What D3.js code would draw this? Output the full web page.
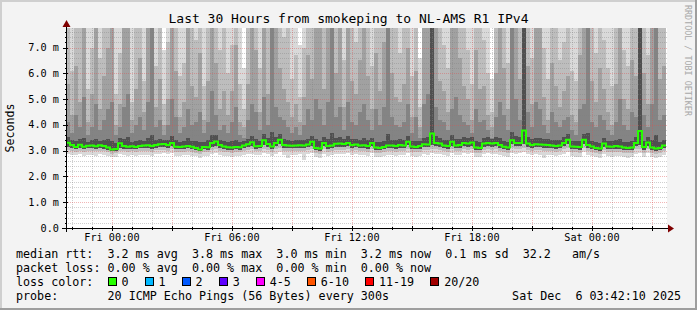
<!DOCTYPE html>
<html><head><meta charset="utf-8">
<script src="https://cdn.jsdelivr.net/npm/d3@7"></script>
<style>
html,body{margin:0;padding:0;background:#f3f3f3;}
svg{display:block;}
text{font-family:"DejaVu Sans Mono",monospace;white-space:pre;}
</style></head><body>
<svg id="c" width="697" height="310"></svg>
<script>
// ---------------- data ----------------
const title = "Last 30 Hours from smokeping to NL-AMS R1 IPv4";
const startTime = new Date(2025, 11, 4, 21, 42, 10);
const endTime = new Date(2025, 11, 6, 3, 42, 10);
const stepMinutes = 12;

// median RTT per step (ms)
const median = [
3.31,3.22,3.14,3.23,3.15,3.19,3.20,3.17,3.21,3.18,
3.12,3.05,3.07,3.29,3.18,3.15,3.17,3.14,3.18,3.20,
3.21,3.18,3.22,3.25,3.26,3.22,3.30,3.15,3.14,3.16,
3.18,3.15,3.10,3.05,3.14,3.13,3.30,3.36,3.22,3.16,
3.13,3.12,3.14,3.13,3.20,3.25,3.33,3.17,3.18,3.40,
3.26,3.16,3.30,3.42,3.22,3.20,3.19,3.20,3.21,3.20,
3.24,3.35,3.10,3.08,3.30,3.18,3.20,3.27,3.28,3.26,
3.30,3.22,3.24,3.20,3.21,3.18,3.30,3.12,3.10,3.14,
3.20,3.20,3.18,3.22,3.20,3.35,3.16,3.14,3.18,3.25,
3.24,3.67,3.30,3.28,3.20,3.18,3.35,3.20,3.22,3.30,
3.28,3.32,3.12,3.10,3.28,3.30,3.28,3.30,3.22,3.15,
3.12,3.40,3.30,3.30,3.78,3.28,3.22,3.25,3.24,3.23,
3.22,3.20,3.18,3.20,3.30,3.42,3.16,3.15,3.14,3.42,
3.22,3.16,3.10,3.08,3.28,3.16,3.15,3.18,3.16,3.12,
3.10,3.12,3.30,3.76,3.14,3.32,3.12,3.08,3.10,3.20];

// sorted ping ranks per step (ms)
const ping1 = [
2.88,2.84,2.82,2.86,2.80,2.85,2.83,2.81,2.86,2.82,
2.79,2.74,2.77,2.86,2.83,2.80,2.84,2.79,2.84,2.85,
2.85,2.80,2.88,2.87,2.90,2.86,2.90,2.79,2.80,2.82,
2.84,2.80,2.78,2.72,2.80,2.78,2.88,2.92,2.85,2.81,
2.79,2.76,2.80,2.79,2.85,2.87,2.89,2.82,2.84,2.90,
2.88,2.78,2.86,2.94,2.85,2.70,2.82,2.84,2.86,2.65,
2.86,2.90,2.74,2.72,2.89,2.80,2.82,2.88,2.89,2.87,
2.90,2.85,2.86,2.82,2.84,2.80,2.90,2.77,2.75,2.79,
2.82,2.84,2.80,2.85,2.83,2.92,2.80,2.76,2.81,2.86,
2.85,2.90,2.88,2.89,2.83,2.80,2.91,2.82,2.85,2.90,
2.88,2.90,2.77,2.74,2.89,2.90,2.87,2.89,2.84,2.78,
2.76,2.92,2.88,2.90,2.93,2.88,2.85,2.86,2.84,2.70,
2.85,2.82,2.80,2.83,2.89,2.95,2.78,2.77,2.76,2.94,
2.84,2.78,2.74,2.72,2.88,2.79,2.77,2.80,2.78,2.75,
2.73,2.75,2.89,2.91,2.76,2.90,2.75,2.72,2.74,2.82];
const ping3 = [
3.02,2.98,2.95,3.00,2.96,2.99,2.98,2.97,3.00,2.97,
2.93,2.88,2.90,3.00,2.97,2.95,2.97,2.94,2.98,2.99,
3.00,2.96,3.01,3.02,3.04,3.00,3.05,2.95,2.94,2.96,
2.98,2.95,2.92,2.87,2.94,2.93,3.04,3.07,3.00,2.96,
2.93,2.92,2.94,2.93,2.99,3.02,3.05,2.97,2.98,3.08,
3.03,2.96,3.05,3.10,3.00,2.98,2.97,2.99,3.00,2.98,
3.01,3.07,2.90,2.88,3.05,2.96,2.98,3.03,3.04,3.02,
3.05,3.00,3.01,2.98,2.99,2.96,3.05,2.92,2.90,2.94,
2.98,2.99,2.96,3.00,2.98,3.08,2.95,2.93,2.96,3.02,
3.01,3.08,3.05,3.04,2.98,2.96,3.07,2.98,3.00,3.05,
3.03,3.06,2.92,2.90,3.04,3.05,3.03,3.05,3.00,2.94,
2.92,3.10,3.05,3.05,3.10,3.04,3.00,3.02,3.01,3.00,
3.00,2.98,2.96,2.98,3.05,3.12,2.94,2.93,2.92,3.12,
3.00,2.94,2.90,2.88,3.03,2.94,2.93,2.96,2.94,2.91,
2.90,2.91,3.05,3.08,2.92,3.06,2.91,2.88,2.90,2.98];
const ping5 = [
3.14,3.10,3.05,3.11,3.06,3.09,3.10,3.08,3.11,3.08,
3.03,2.97,2.99,3.12,3.08,3.06,3.08,3.05,3.09,3.10,
3.11,3.08,3.12,3.14,3.15,3.12,3.17,3.06,3.05,3.07,
3.09,3.06,3.02,2.97,3.05,3.04,3.16,3.20,3.12,3.07,
3.04,3.03,3.05,3.04,3.10,3.14,3.18,3.08,3.09,3.22,
3.15,3.07,3.17,3.24,3.12,3.10,3.09,3.10,3.11,3.10,
3.13,3.20,3.01,2.99,3.17,3.08,3.10,3.15,3.16,3.14,
3.17,3.12,3.13,3.10,3.11,3.08,3.17,3.03,3.01,3.05,
3.10,3.10,3.08,3.12,3.10,3.21,3.07,3.05,3.08,3.14,
3.13,3.22,3.18,3.16,3.10,3.08,3.20,3.10,3.12,3.18,
3.16,3.19,3.03,3.01,3.16,3.18,3.16,3.18,3.12,3.06,
3.03,3.25,3.18,3.18,3.24,3.16,3.12,3.14,3.13,3.12,
3.12,3.10,3.08,3.10,3.18,3.26,3.06,3.05,3.04,3.26,
3.12,3.06,3.01,2.99,3.16,3.06,3.05,3.08,3.06,3.03,
3.01,3.03,3.18,3.22,3.04,3.19,3.03,2.99,3.01,3.10];
const ping12 = [
3.52,3.40,3.36,3.44,3.48,3.35,3.41,3.46,3.38,3.42,
3.45,3.38,3.29,3.50,3.47,3.53,3.34,3.37,3.43,3.39,
3.51,3.62,3.40,3.46,3.41,3.43,3.58,3.40,3.35,3.38,
3.49,3.39,3.36,3.34,3.35,3.40,3.61,3.59,3.42,3.39,
3.34,3.37,3.41,3.33,3.36,3.47,3.58,3.44,3.39,3.66,
3.49,3.72,3.55,3.64,3.45,3.41,3.39,3.42,3.40,3.41,
3.47,3.57,3.44,3.36,3.53,3.46,3.68,3.50,3.52,3.45,
3.56,3.44,3.46,3.43,3.48,3.41,3.50,3.35,3.32,3.39,
3.66,3.43,3.40,3.44,3.42,3.57,3.38,3.37,3.39,3.50,
3.52,11.3,3.56,3.51,3.42,3.40,3.59,3.46,3.45,3.52,
3.50,3.53,3.36,3.33,3.50,3.52,3.47,3.54,3.48,3.39,
3.35,3.74,3.56,3.52,10.6,3.52,3.45,3.50,3.48,3.45,
3.44,3.43,3.40,3.42,3.53,3.64,3.38,3.37,3.38,3.65,
3.70,3.39,3.33,3.31,3.50,3.38,3.37,3.41,3.44,3.35,
3.33,3.36,3.53,12.2,3.37,3.55,3.40,3.62,3.33,3.43];
const ping14 = [
4.1,3.7,4.4,3.9,5.1,3.6,3.9,4.8,3.8,4.2,
4.6,4.9,3.6,3.9,4.7,5.2,3.7,4.0,4.3,3.8,
4.9,9.6,3.9,4.2,3.6,4.0,5.0,4.3,3.7,3.9,
4.6,4.0,4.1,4.5,3.7,4.1,5.3,4.4,3.8,4.0,
3.7,4.1,4.7,3.6,3.5,4.2,4.8,4.5,3.8,5.1,
4.0,9.1,4.7,4.3,4.2,3.9,3.7,3.9,3.6,4.0,
4.6,4.2,5.0,4.6,4.0,4.9,9.8,4.3,4.7,3.8,
4.9,4.1,4.0,4.5,4.8,4.2,3.8,4.6,4.0,4.7,
9.4,4.3,4.0,3.9,4.1,4.8,3.7,4.3,3.5,4.8,
5.2,12.4,4.7,4.2,4.1,3.8,4.6,5.1,4.4,4.1,
4.0,3.7,4.6,4.1,4.2,3.8,3.5,4.3,4.9,4.4,
3.8,9.9,5.0,4.2,11.8,4.5,3.9,4.9,4.6,4.0,
3.7,4.5,4.1,3.9,4.2,4.3,3.8,3.6,4.6,4.8,
9.2,4.1,3.9,4.4,4.2,3.8,3.6,4.1,5.0,4.0,
3.8,4.5,4.3,13.5,4.4,3.9,4.8,10.1,4.2,4.4];
const ping16 = [
5.6,4.4,6.3,4.9,11.5,4.1,5.2,10.9,4.6,5.9,
7.0,9.8,4.0,4.8,10.3,9.2,4.2,5.4,6.6,4.5,
9.7,13.4,4.7,5.8,4.0,5.0,10.1,6.1,4.3,4.9,
9.4,5.5,5.1,6.8,4.2,5.7,11.2,6.4,4.6,5.3,
4.4,5.3,7.1,4.1,3.9,5.6,9.5,6.9,4.5,10.6,
5.2,12.8,9.3,6.2,5.4,4.9,4.3,4.8,4.1,5.1,
6.7,5.8,10.2,8.9,5.4,9.6,13.1,6.0,9.1,4.7,
9.9,5.7,5.2,6.5,9.4,5.9,4.6,6.8,5.3,7.2,
12.4,6.0,5.1,4.9,5.6,7.0,4.3,6.1,3.9,9.3,
10.0,16.2,9.2,5.7,5.3,4.5,8.8,10.4,6.6,5.5,
5.0,4.2,6.9,5.4,5.5,4.4,3.9,6.0,9.6,6.2,
4.6,13.0,9.8,5.8,15.4,6.3,4.8,9.9,9.0,5.1,
4.2,6.4,5.5,4.7,5.3,5.9,4.4,4.1,6.7,9.5,
12.6,5.7,4.9,6.2,5.4,4.5,4.0,5.6,10.1,5.0,
4.6,6.5,5.9,17.1,6.0,4.8,9.7,13.2,5.8,6.3];
const ping18 = [
11.2,6.1,12.8,9.6,14.7,5.4,7.0,15.9,6.6,10.4,
9.8,13.5,5.2,6.8,14.1,12.0,4.9,9.3,10.1,5.7,
12.9,17.8,6.3,9.5,4.8,7.2,13.4,10.6,5.9,6.4,
12.2,9.4,7.3,10.0,5.5,9.9,14.6,10.3,6.9,9.2,
6.0,7.1,10.8,5.6,4.6,9.7,12.7,10.5,6.2,13.8,
9.4,16.9,12.5,10.2,7.4,9.1,5.8,6.7,5.1,7.0,
10.4,9.8,13.6,11.9,9.5,12.8,17.2,10.1,12.3,6.5,
13.0,9.6,7.2,10.3,12.9,9.9,6.3,10.6,9.4,10.9,
16.3,10.0,9.3,6.8,9.9,11.1,5.9,10.2,4.7,12.6,
13.3,21.5,12.4,9.8,7.1,6.2,12.1,13.7,10.5,9.6,
6.9,5.6,10.7,9.5,7.3,6.0,4.5,9.9,12.8,10.1,
6.4,17.0,12.9,9.7,20.3,10.2,6.6,13.1,12.2,7.0,
5.8,10.3,9.4,6.5,7.2,9.8,6.1,5.7,10.5,12.6,
16.5,9.9,6.8,10.1,7.3,6.2,5.5,9.6,13.2,6.9,
6.3,10.4,9.7,22.6,10.0,6.7,12.7,17.3,9.8,10.2];
const ping20 = [
14.2,11.8,16.5,12.1,19.4,10.6,9.8,21.3,10.2,13.7,
12.9,17.6,9.4,10.8,18.2,15.1,9.1,12.4,13.3,8.9,
16.8,24.5,10.1,12.6,6.9,9.6,17.2,13.8,10.4,9.3,
15.9,12.2,9.7,13.1,10.9,12.8,18.7,13.5,9.9,12.3,
10.5,9.2,14.1,10.3,6.2,12.7,16.3,13.9,10.0,17.4,
12.5,22.8,16.1,13.2,9.5,12.0,10.7,9.0,7.1,10.6,
13.6,12.9,17.9,15.4,12.2,16.6,23.1,13.0,15.8,9.9,
17.0,12.4,10.2,13.4,16.9,12.8,9.6,13.7,12.5,14.0,
21.6,13.1,12.7,10.1,12.9,14.3,9.4,13.2,6.6,16.2,
17.5,28.4,16.0,12.6,10.3,9.7,15.6,17.3,13.8,12.1,
10.8,9.5,13.9,12.4,10.0,9.8,5.8,12.9,16.4,13.3,
10.2,22.1,16.7,12.5,27.6,13.0,9.9,17.1,15.5,10.4,
9.6,13.4,12.2,10.7,9.3,12.8,10.1,9.5,13.6,16.0,
21.9,12.3,10.5,13.1,9.8,10.2,9.4,12.7,16.8,10.6,
9.7,13.5,12.4,29.2,13.2,10.3,16.5,22.4,13.0,12.6];

const yMaxMs = 7.76;
const yTickValues = [0, 1, 2, 3, 4, 5, 6, 7];
const yTickLabels = ["0.0", "1.0 m", "2.0 m", "3.0 m", "4.0 m", "5.0 m", "6.0 m", "7.0 m"];
const xLabelTimes = [new Date(2025,11,5,0,0), new Date(2025,11,5,6,0), new Date(2025,11,5,12,0), new Date(2025,11,5,18,0), new Date(2025,11,6,0,0)];
const xLabels = ["Fri 00:00", "Fri 06:00", "Fri 12:00", "Fri 18:00", "Sat 00:00"];
const yAxisTitle = "Seconds";
const watermark = "RRDTOOL / TOBI OETIKER";
const legendMedian = "median rtt:  3.2 ms avg  3.8 ms max  3.0 ms min  3.2 ms now  0.1 ms sd  32.2   am/s";
const legendLoss = "packet loss: 0.00 % avg  0.00 % max  0.00 % min  0.00 % now";
const legendColorTitle = "loss color:";
const lossLabels = ["0", "1", "2", "3", "4-5", "6-10", "11-19", "20/20"];
const lossColors = ["#26ff00", "#00b8ff", "#0059ff", "#5e00ff", "#ff00fe", "#ff5500", "#ff0000", "#a10000"];
const probeTitle = "probe:";
const probeText = "20 ICMP Echo Pings (56 Bytes) every 300s";
const dateText = "Sat Dec  6 03:42:10 2025";
const smokeColors = ["#d9d9d9", "#bdbdbd", "#a1a1a1", "#848484", "#505050"];

// ---------------- drawing ----------------
const W = 697, H = 310;
const L = 66, R = 666, T = 28, B = 228;
const svg = d3.select("#c");

svg.append("rect").attr("width", W).attr("height", H).attr("fill", "#f3f3f3");
// 3D frame
svg.append("rect").attr("x",0).attr("y",0).attr("width",W).attr("height",2).attr("fill","#cfcfcf");
svg.append("rect").attr("x",0).attr("y",0).attr("width",2).attr("height",H).attr("fill","#cfcfcf");
svg.append("rect").attr("x",0).attr("y",H-2).attr("width",W).attr("height",2).attr("fill","#9e9e9e");
svg.append("rect").attr("x",W-2).attr("y",0).attr("width",2).attr("height",H).attr("fill","#9e9e9e");

svg.append("rect").attr("x", L).attr("y", T).attr("width", R - L + 1).attr("height", B - T).attr("fill", "#ffffff");

const x = d3.scaleTime().domain([startTime, endTime]).range([L, R]);
const y = d3.scaleLinear().domain([0, yMaxMs]).range([B, T]);

svg.append("clipPath").attr("id", "plotclip").append("rect")
  .attr("x", L).attr("y", T).attr("width", R - L).attr("height", B - T);

const stepTime = i => new Date(startTime.getTime() + i * stepMinutes * 60000);
const idx = d3.range(median.length);

const bands = [
  {lo: ping1, hi: ping20, c: smokeColors[0]},
  {lo: ping3, hi: ping18, c: smokeColors[1]},
  {lo: ping5, hi: ping16, c: smokeColors[2]},
  {lo: ping5, hi: ping14, c: smokeColors[3]},
  {lo: ping5, hi: ping12, c: smokeColors[4]}
];
const smoke = svg.append("g").attr("clip-path", "url(#plotclip)").attr("shape-rendering", "crispEdges");
bands.forEach(b => {
  smoke.append("g").selectAll("rect").data(idx).join("rect")
    .attr("x", i => x(stepTime(i)))
    .attr("width", i => x(stepTime(i + 1)) - x(stepTime(i)))
    .attr("y", i => y(Math.min(b.hi[i], yMaxMs + 0.5)))
    .attr("height", i => y(b.lo[i]) - y(Math.min(b.hi[i], yMaxMs + 0.5)))
    .attr("fill", b.c);
});

// grid (dotted, drawn over the smoke)
const grid = svg.append("g").attr("shape-rendering", "crispEdges");
const minorCol = "rgba(128,128,128,0.38)", majorCol = "rgba(222,80,80,0.42)";
const minorY = d3.range(0.2, yMaxMs, 0.2).filter(v => Math.abs(v - Math.round(v)) > 0.01);
grid.selectAll(".hmin").data(minorY).join("line")
  .attr("x1", L).attr("x2", R + 2).attr("y1", d => Math.round(y(d)) + 0.5).attr("y2", d => Math.round(y(d)) + 0.5)
  .attr("stroke", minorCol).attr("stroke-dasharray", "1,1");
const hours = d3.timeHour.every(1).range(startTime, endTime);
const majorHours = hours.filter(d => d.getHours() % 3 === 0);
grid.selectAll(".vmin").data(hours.filter(d => d.getHours() % 3 !== 0)).join("line")
  .attr("y1", T).attr("y2", B).attr("x1", d => Math.round(x(d)) + 0.5).attr("x2", d => Math.round(x(d)) + 0.5)
  .attr("stroke", minorCol).attr("stroke-dasharray", "1,1");
grid.selectAll(".hmaj").data(yTickValues.filter(v => v > 0)).join("line")
  .attr("x1", L).attr("x2", R + 2).attr("y1", d => Math.round(y(d)) + 0.5).attr("y2", d => Math.round(y(d)) + 0.5)
  .attr("stroke", majorCol).attr("stroke-dasharray", "1,1");
grid.selectAll(".vmaj").data(majorHours).join("line")
  .attr("y1", T).attr("y2", B).attr("x1", d => Math.round(x(d)) + 0.5).attr("x2", d => Math.round(x(d)) + 0.5)
  .attr("stroke", majorCol).attr("stroke-dasharray", "1,1");

// median line
const medPts = idx.map(i => [stepTime(i), median[i]]);
medPts.push([stepTime(median.length), median[median.length - 1]]);
svg.append("path").datum(medPts)
  .attr("clip-path", "url(#plotclip)")
  .attr("d", d3.line().x(d => x(d[0])).y(d => y(d[1])).curve(d3.curveStepAfter))
  .attr("fill", "none").attr("stroke", lossColors[0]).attr("stroke-width", 2);

// axes
const ax = svg.append("g").attr("shape-rendering", "crispEdges");
ax.append("line").attr("x1", 62).attr("x2", 669).attr("y1", B + 0.5).attr("y2", B + 0.5).attr("stroke", "#000");
ax.append("line").attr("x1", L + 0.5).attr("x2", L + 0.5).attr("y1", B + 4).attr("y2", 24).attr("stroke", "#000");
ax.selectAll(".xt").data(hours).join("line")
  .attr("x1", d => Math.round(x(d)) + 0.5).attr("x2", d => Math.round(x(d)) + 0.5)
  .attr("y1", d => d.getHours() % 3 === 0 ? B - 2 : B - 1).attr("y2", d => d.getHours() % 3 === 0 ? B + 3 : B + 2)
  .attr("stroke", "#000");
ax.selectAll(".yt").data(yTickValues).join("line")
  .attr("x1", L - 3).attr("x2", L + 2).attr("y1", d => Math.round(y(d)) + 0.5).attr("y2", d => Math.round(y(d)) + 0.5)
  .attr("stroke", "#000");
ax.selectAll(".ytm").data(minorY).join("line")
  .attr("x1", L - 1).attr("x2", L + 1).attr("y1", d => Math.round(y(d)) + 0.5).attr("y2", d => Math.round(y(d)) + 0.5)
  .attr("stroke", "#000");
svg.append("path").attr("d", `M${R + 2},${B - 3.5} L${R + 8},${B + 0.5} L${R + 2},${B + 4.5} Z`).attr("fill", "#7f0000");
svg.append("path").attr("d", `M${L - 3.5},${T - 1} L${L + 0.5},${T - 8} L${L + 4.5},${T - 1} Z`).attr("fill", "#7f0000");

// tick labels
svg.selectAll(".ylab").data(yTickValues).join("text")
  .attr("x", 59).attr("y", d => y(d) + 3.5).attr("text-anchor", "end")
  .attr("font-size", "10.2px").attr("fill", "#000").text((d, i) => yTickLabels[i]);
svg.selectAll(".xlab").data(xLabelTimes).join("text")
  .attr("x", d => x(d)).attr("y", 241).attr("text-anchor", "middle")
  .attr("font-size", "10.2px").attr("fill", "#000").text((d, i) => xLabels[i]);

// title
svg.append("text").attr("x", 348.5).attr("y", 23).attr("text-anchor", "middle")
  .attr("font-size", "13px").attr("fill", "#000").text(title);
// y axis title
svg.append("text").attr("transform", "translate(14,128) rotate(-90)").attr("text-anchor", "middle")
  .attr("font-size", "11.6px").attr("fill", "#000").text(yAxisTitle);
// watermark
svg.append("text").attr("transform", "translate(685,5) rotate(90)").attr("text-anchor", "start")
  .attr("font-size", "8.4px").attr("fill", "#a8a8a8").text(watermark);

// legend
const LF = "11.7px", CW = 7.04, LX = 16;
const rowY = [258, 272, 286, 300];
svg.append("text").attr("x", LX).attr("y", rowY[0]).attr("font-size", LF).text(legendMedian);
svg.append("text").attr("x", LX).attr("y", rowY[1]).attr("font-size", LF).text(legendLoss);
svg.append("text").attr("x", LX).attr("y", rowY[2]).attr("font-size", LF).text(legendColorTitle);
let sx = LX + 13 * CW;
lossLabels.forEach((lab, i) => {
  svg.append("rect").attr("x", Math.round(sx) + 0.5).attr("y", rowY[2] - 8.5).attr("width", 8).attr("height", 8)
    .attr("fill", lossColors[i]).attr("stroke", "#000").attr("stroke-width", 1).attr("shape-rendering", "crispEdges");
  svg.append("text").attr("x", sx + 14).attr("y", rowY[2]).attr("font-size", LF).text(lab);
  sx += 30 + CW * lab.length;
});
svg.append("text").attr("x", LX).attr("y", rowY[3]).attr("font-size", LF).text(probeTitle);
svg.append("text").attr("x", LX + 13 * CW).attr("y", rowY[3]).attr("font-size", LF).text(probeText);
svg.append("text").attr("x", 681).attr("y", rowY[3]).attr("text-anchor", "end").attr("font-size", LF).text(dateText);
</script>
</body></html>
